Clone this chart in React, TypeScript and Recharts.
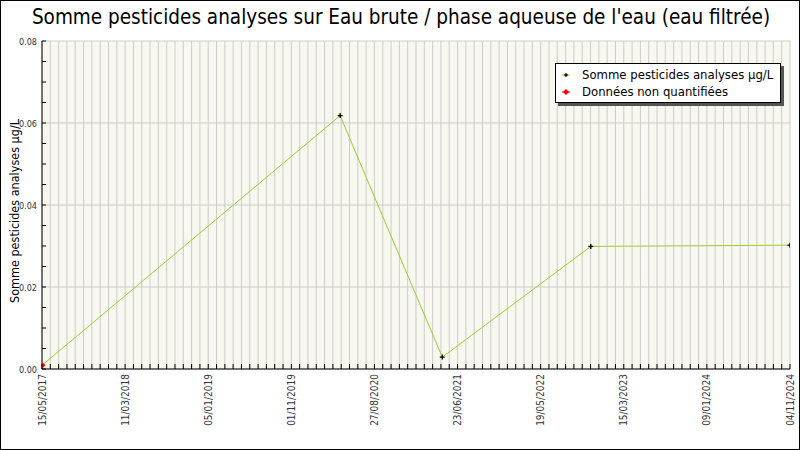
import React from "react";
import { LineChart, Line, XAxis, YAxis, CartesianGrid } from "recharts";

// ---- data ----
const SAMPLE_DATES = ["15/05/2017", "07/05/2020", "15/05/2021", "08/11/2022", "04/11/2024"];
const SAMPLE_VALUES = [0.0009, 0.0618, 0.0029, 0.0299, 0.0302];
const NON_QUANTIFIED = [true, false, false, false, false];

const X_LABELS = [
  "15/05/2017", "11/03/2018", "05/01/2019", "01/11/2019", "27/08/2020",
  "23/06/2021", "19/05/2022", "15/03/2023", "09/01/2024", "04/11/2024",
];
const Y_MAJOR = [0, 0.02, 0.04, 0.06, 0.08];

const TITLE = "Somme pesticides analyses sur Eau brute / phase aqueuse de l'eau (eau filtrée)";
const Y_TITLE = "Somme pesticides analyses µg/L";
const SERIES_NAME = "Somme pesticides analyses µg/L";
const NQ_NAME = "Données non quantifiées";

const FONT = "'DejaVu Sans Condensed', 'DejaVu Sans', sans-serif";
const LINE_COLOR = "#9acd32";

const toDay = (s: string) => {
  const [d, m, y] = s.split("/").map(Number);
  return Date.UTC(y, m - 1, d) / 86400000;
};

const T0 = toDay(X_LABELS[0]);
const T1 = toDay(X_LABELS[X_LABELS.length - 1]);

const data = SAMPLE_DATES.map((d, i) => ({
  t: toDay(d),
  v: SAMPLE_VALUES[i],
  nq: NON_QUANTIFIED[i] ? SAMPLE_VALUES[i] : null,
}));

// 10 minor divisions between labelled ticks
const xTicks = Array.from({ length: (X_LABELS.length - 1) * 10 + 1 }, (_, i) => T0 + (i * (T1 - T0)) / ((X_LABELS.length - 1) * 10));
const yTicks = Array.from({ length: 17 }, (_, i) => +(i * 0.005).toFixed(3));

function XTick({ x, y, index }: any) {
  const major = index % 10 === 0;
  return (
    <g>
      <line x1={x} y1={y} x2={x} y2={y - 5} stroke="#000" />
      {major && (
        <text
          x={x}
          y={y + 5}
          transform={`rotate(-90 ${x} ${y + 5})`}
          textAnchor="end"
          dominantBaseline="central"
          fontSize={10}
          fontFamily={FONT}
          fill="#333"
        >
          {X_LABELS[index / 10]}
        </text>
      )}
    </g>
  );
}

function YTick({ x, y, payload }: any) {
  const major = Y_MAJOR.some((m) => Math.abs(m - payload.value) < 1e-9);
  return (
    <g>
      <line x1={x} y1={y} x2={x + 4} y2={y} stroke="#000" />
      {major && (
        <text x={x - 5} y={y + 1} textAnchor="end" dominantBaseline="central" fontSize={9} fontFamily={FONT} fill="#333">
          {payload.value.toFixed(2)}
        </text>
      )}
    </g>
  );
}

function PlusDot({ cx, cy, payload }: any) {
  if (cx == null || payload.nq != null) return <g />;
  return (
    <g stroke="#000" strokeWidth={1.3}>
      <line x1={cx - 2.5} y1={cy} x2={cx + 2.5} y2={cy} />
      <line x1={cx} y1={cy - 2.5} x2={cx} y2={cy + 2.5} />
    </g>
  );
}

function RedDot({ cx, cy }: any) {
  if (cx == null || cy == null) return <g />;
  return <path d={`M${cx - 3.5},${cy} L${cx},${cy - 3.5} L${cx + 3.5},${cy} L${cx},${cy + 3.5} Z`} fill="#ff0000" />;
}

function LegendBox() {
  const row = (color: string, marker: React.ReactNode, label: string) => (
    <div style={{ display: "flex", alignItems: "center", height: 17 }}>
      <svg width={24} height={10}>
        <line x1={4} y1={5} x2={12} y2={5} stroke={color} />
        {marker}
      </svg>
      <span>{label}</span>
    </div>
  );
  return (
    <div
      style={{
        position: "absolute",
        left: 555,
        top: 63,
        width: 226,
        height: 40,
        boxSizing: "border-box",
        background: "#fff",
        border: "1px solid #000",
        boxShadow: "3px 3px 0 #555",
        padding: "2px 0 0 2px",
        fontFamily: FONT,
        fontSize: 13,
        color: "#000",
        whiteSpace: "nowrap",
      }}
    >
      {row(
        LINE_COLOR,
        <g stroke="#000" strokeWidth={1.2}>
          <line x1={6} y1={5} x2={10} y2={5} />
          <line x1={8} y1={3} x2={8} y2={7} />
        </g>,
        SERIES_NAME
      )}
      {row("#ff0000", <path d="M8,2 L11,5 L8,8 L5,5 Z" fill="#ff0000" />, NQ_NAME)}
    </div>
  );
}

export default function App() {
  return (
    <div style={{ position: "absolute", left: 0, top: 0, width: 800, height: 450, background: "#fff" }}>
      <div
        style={{
          position: "absolute",
          left: 0,
          top: 5,
          width: 802,
          textAlign: "center",
          fontFamily: FONT,
          fontSize: 20.5,
          color: "#000",
          whiteSpace: "nowrap",
        }}
      >
        {TITLE}
      </div>
      <div style={{ position: "absolute", left: 0, top: 0 }}>
        <LineChart width={800} height={450} data={data} margin={{ top: 41, right: 10, left: 0, bottom: 0 }}>
          <CartesianGrid
            stroke="#cccccc"
            fill="#f8f8f0"
            fillOpacity={1}
            horizontalValues={Y_MAJOR}
          />
          <XAxis
            dataKey="t"
            type="number"
            domain={[T0, T1]}
            ticks={xTicks}
            interval={0}
            allowDataOverflow
            height={81}
            tickSize={0}
            tickMargin={0}
            tickLine={false}
            axisLine={{ stroke: "#000" }}
            tick={<XTick />}
          />
          <YAxis
            type="number"
            domain={[0, 0.08]}
            ticks={yTicks}
            interval={0}
            width={42}
            tickSize={0}
            tickMargin={0}
            tickLine={false}
            axisLine={{ stroke: "#000" }}
            tick={<YTick />}
            label={{
              content: () => (
                <text
                  x={14}
                  y={211}
                  transform="rotate(-90 14 211)"
                  textAnchor="middle"
                  dominantBaseline="central"
                  fontSize={12.5}
                  fontFamily={FONT}
                  fill="#000"
                >
                  {Y_TITLE}
                </text>
              ),
            }}
          />
          <Line
            type="linear"
            dataKey="v"
            stroke={LINE_COLOR}
            strokeWidth={1}
            dot={<PlusDot />}
            activeDot={false}
            isAnimationActive={false}
          />
          <Line
            type="linear"
            dataKey="nq"
            stroke="#ff0000"
            dot={<RedDot />}
            activeDot={false}
            connectNulls={false}
            isAnimationActive={false}
          />
        </LineChart>
      </div>
      <LegendBox />
      <div
        style={{
          position: "absolute",
          left: 0,
          top: 0,
          width: 800,
          height: 450,
          boxSizing: "border-box",
          border: "1px solid #000",
          pointerEvents: "none",
        }}
      />
    </div>
  );
}
